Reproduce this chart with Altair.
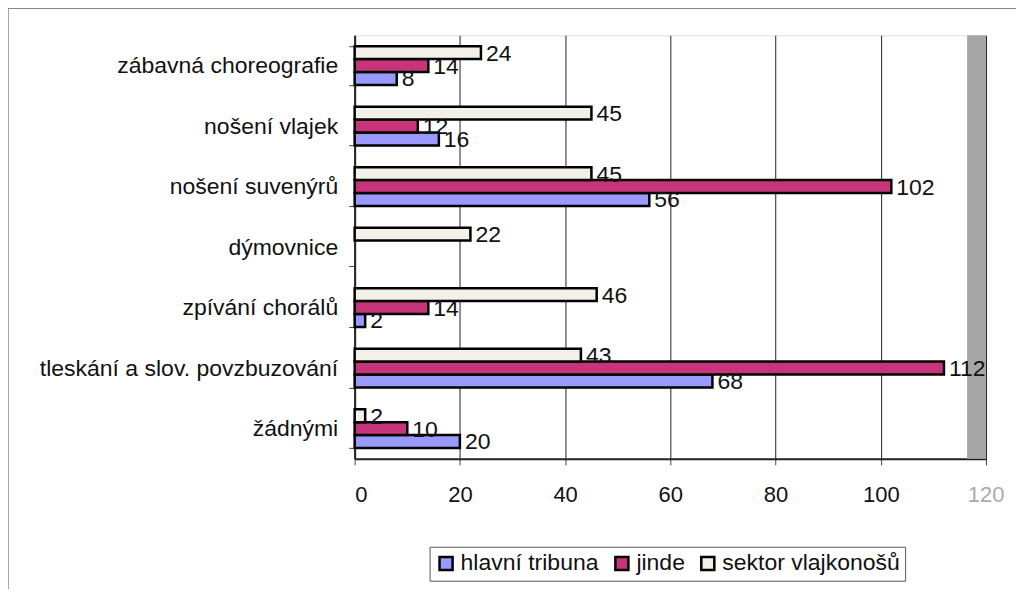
import altair as alt
import pandas as pd

categories = ["zábavná choreografie", "nošení vlajek", "nošení suvenýrů", "dýmovnice",
              "zpívání chorálů", "tleskání a slov. povzbuzování", "žádnými"]
series = ["hlavní tribuna", "jinde", "sektor vlajkonošů"]
bar_order = ["sektor vlajkonošů", "jinde", "hlavní tribuna"]
hlavni = [8, 16, 56, 0, 2, 68, 20]
jinde = [14, 12, 102, 0, 14, 112, 10]
sektor = [24, 45, 45, 22, 46, 43, 2]
colors = ["#9999FF", "#C8347A", "#F2F0E8"]
x_ticks = [0, 20, 40, 60, 80, 100, 120]
strip = [116.4, 120]

rows = []
for s, vals in zip(series, [hlavni, jinde, sektor]):
    for c, v in zip(categories, vals):
        rows.append({"kategorie": c, "skupina": s, "pocet": v})
df = pd.DataFrame(rows)
df_nz = df[df["pocet"] > 0]

FONT = "Liberation Sans"

x_scale = alt.Scale(domain=[0, 120], nice=False)
y_scale = alt.Scale(domain=categories, paddingInner=0.36, paddingOuter=0.18)

strip_df = pd.DataFrame({"x0": [strip[0]], "x1": [strip[1]]})
strip_layer = alt.Chart(strip_df).mark_rect(color="#A6A6A6").encode(
    x=alt.X("x0:Q", scale=x_scale), x2="x1:Q"
)

bars = alt.Chart(df_nz).mark_bar(stroke="black", strokeWidth=2.5).encode(
    x=alt.X("pocet:Q", scale=x_scale,
            axis=alt.Axis(values=x_ticks, title=None, grid=True, gridColor="#222",
                          gridWidth=1, domainColor="#222", domainWidth=2,
                          tickColor="#444", tickSize=6, labelFontSize=22,
                          labelPadding=20, labelColor="#111", labelFont=FONT,
                          labelExpr="datum.value == 120 ? '' : datum.label")),
    y=alt.Y("kategorie:N", scale=y_scale, sort=categories,
            axis=alt.Axis(title=None, labelFontSize=23, labelFont=FONT, labelColor="#111",
                          labelPadding=11, tickBand="extent", tickSize=6, tickColor="#444",
                          domainColor="#222", domainWidth=2, labelLimit=400)),
    yOffset=alt.YOffset("skupina:N", sort=bar_order, scale=alt.Scale(domain=bar_order)),
    color=alt.Color("skupina:N", scale=alt.Scale(domain=series, range=colors),
                    legend=alt.Legend(title=None, orient="none", direction="horizontal",
                                      legendX=75, legendY=512, symbolType="square",
                                      symbolSize=170, symbolStrokeColor="black",
                                      symbolStrokeWidth=2.5, labelFontSize=23,
                                      labelFont=FONT, labelColor="#111", labelLimit=400,
                                      strokeColor="#555", padding=5, columnPadding=10,
                                      symbolOffset=0, labelOffset=3, fillColor="white")),
)

labels = alt.Chart(df_nz).mark_text(align="left", baseline="middle", dx=5, dy=1,
                                    fontSize=23, font=FONT, color="#111").encode(
    x=alt.X("pocet:Q", scale=x_scale),
    y=alt.Y("kategorie:N", scale=y_scale, sort=categories),
    yOffset=alt.YOffset("skupina:N", sort=bar_order, scale=alt.Scale(domain=bar_order)),
    text="pocet:Q",
)

label120 = alt.Chart(pd.DataFrame({"v": [120]})).mark_text(
    baseline="top", dy=26, fontSize=22, font=FONT, color="#AAAAAA"
).encode(x=alt.X("v:Q", scale=x_scale), y=alt.value(424), text="v:Q")

frame_top = alt.Chart(pd.DataFrame({"a": [0]})).mark_rule(color="#888", strokeWidth=1.5).encode(
    x=alt.value(-347), x2=alt.value(680), y=alt.value(-27))
frame_left = alt.Chart(pd.DataFrame({"a": [0]})).mark_rule(color="#888", strokeWidth=1.5).encode(
    x=alt.value(-347), y=alt.value(-27), y2=alt.value(560))

chart = alt.layer(strip_layer, bars, labels, label120, frame_top, frame_left).properties(
    width=632, height=424,
    autosize=alt.AutoSizeParams(type="none"),
    padding={"left": 347, "top": 27, "right": 30, "bottom": 130},
).configure_view(fill="#C4C4C4", stroke="#333", strokeWidth=1.5).configure(background="white")

chart.save("out.html", embed_options={"renderer": "svg", "actions": False})
